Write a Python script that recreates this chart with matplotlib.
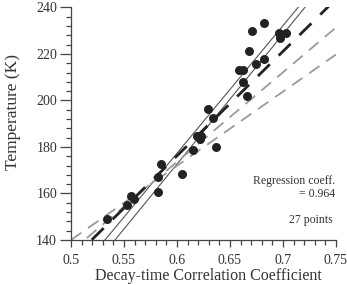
import matplotlib
matplotlib.use("Agg")
import matplotlib.pyplot as plt
import numpy as np
from matplotlib.ticker import MultipleLocator

plt.rcParams['font.family'] = ['Liberation Serif', 'DejaVu Serif']

# Data points (decay-time correlation coefficient, temperature K)
corr = [0.5337, 0.5525, 0.5566, 0.5594, 0.5825, 0.5821, 0.5849, 0.6050, 0.6154,
        0.6365, 0.6189, 0.6226, 0.6217, 0.6295, 0.6342, 0.6658, 0.6620, 0.6585,
        0.6625, 0.6742, 0.6818, 0.6679, 0.6705, 0.6818, 0.6959, 0.6972, 0.7028]
temp = [148.9, 155.1, 158.9, 157.6, 160.5, 167.2, 172.6, 168.5, 178.9,
        179.8, 184.7, 184.7, 183.4, 196.3, 192.6, 201.9, 207.8, 213.0,
        213.0, 215.6, 217.7, 221.2, 229.9, 233.2, 228.9, 226.8, 229.2]

# Fit lines: T = intercept + slope * c
thin_intercepts = [-152.0, -162.4]
thin_slopes = [548.8, 558.4]
dark_dash_intercept = -93.4
dark_dash_slope = 449.3
gray_intercepts = [-19.5, -57.4]
gray_slopes = [319.0, 385.0]

fig = plt.figure(figsize=(3.47, 2.85), dpi=100)
ax = fig.add_axes([0.2046, 0.158, 0.7634, 0.8157])

xs = np.linspace(0.5, 0.75, 400)
for a, b in zip(thin_intercepts, thin_slopes):
    ax.plot(xs, a + b * xs, color='#555555', lw=0.8, zorder=2)
ax.plot(xs, dark_dash_intercept + dark_dash_slope * xs, color='#222222', lw=2.0,
        dashes=(6, 4.5), zorder=3)
for a, b in zip(gray_intercepts, gray_slopes):
    ax.plot(xs, a + b * xs, color='#9a9a9a', lw=1.3, dashes=(7, 4.5), zorder=2)

ax.scatter(corr, temp, s=42, color='#222222', zorder=4, linewidths=0)

ax.set_xlim(0.5, 0.75)
ax.set_ylim(140, 240)
ax.xaxis.set_major_locator(MultipleLocator(0.05))
ax.xaxis.set_minor_locator(MultipleLocator(0.01))
ax.yaxis.set_major_locator(MultipleLocator(20))
ax.yaxis.set_minor_locator(MultipleLocator(4))
ax.set_xticks([0.5, 0.55, 0.6, 0.65, 0.7, 0.75])
ax.set_xticklabels(['0.5', '0.55', '0.6', '0.65', '0.7', '0.75'])

for s in ['top', 'right']:
    ax.spines[s].set_visible(False)
for s in ['left', 'bottom']:
    ax.spines[s].set_color('#444444')
    ax.spines[s].set_linewidth(0.9)

ax.tick_params(axis='both', which='both', direction='out', colors='#444444',
               labelcolor='#333333', labelsize=10, width=0.9)
ax.tick_params(axis='y', which='major', length=8, pad=2)
ax.tick_params(axis='y', which='minor', length=3.5)
ax.tick_params(axis='x', which='major', length=5, pad=5)
ax.tick_params(axis='x', which='minor', length=3.5)

ax.set_xlabel('Decay-time Correlation Coefficient', fontsize=11.5, color='#333333')
ax.xaxis.set_label_coords(0.52, -0.12)
ax.set_ylabel('Temperature (K)', fontsize=12.5, color='#333333')
ax.yaxis.set_label_coords(-0.19, 0.55)

ax.text(0.998, 0.225, 'Regression coeff.\n= 0.964', transform=ax.transAxes,
        ha='right', va='center', fontsize=8.5, color='#333333', linespacing=1.15)
ax.text(0.988, 0.086, '27 points', transform=ax.transAxes,
        ha='right', va='center', fontsize=8.5, color='#333333')

fig.savefig('out.png', dpi=100)
